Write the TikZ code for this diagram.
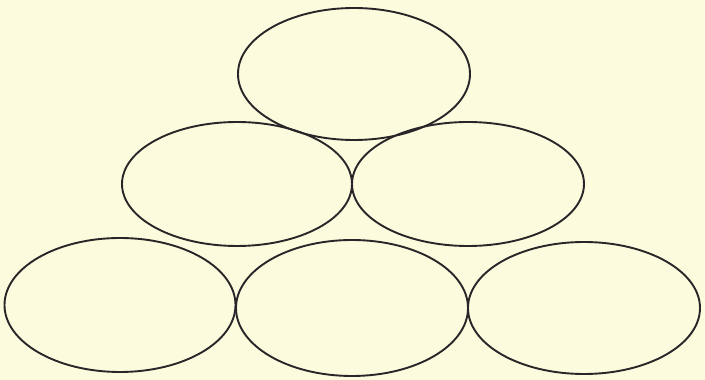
\documentclass[tikz,border=0pt]{standalone}
\usetikzlibrary{shapes.geometric}
\definecolor{paper}{HTML}{FCFBDD}
\definecolor{ink}{HTML}{2A2528}
\begin{document}
\begin{tikzpicture}[x=1pt,y=1pt,
  egg/.style={draw=ink,line width=1.9pt,ellipse,inner sep=0pt,outer sep=0pt}]
\fill[paper] (0,0) rectangle (705,380);
\useasboundingbox (0,0) rectangle (705,380);
\node[egg,minimum width=232pt,minimum height=132pt] (top) at (354,306) {};
\node[egg,minimum width=230pt,minimum height=124pt] (ml) at (237,196) {};
\node[egg,minimum width=232pt,minimum height=124pt] (mr) at (468,196) {};
\node[egg,minimum width=231pt,minimum height=134pt] (bl) at (120,75) {};
\node[egg,minimum width=232pt,minimum height=136pt] (bm) at (352,72) {};
\node[egg,minimum width=232pt,minimum height=132pt] (br) at (584,72) {};
\end{tikzpicture}
\end{document}
